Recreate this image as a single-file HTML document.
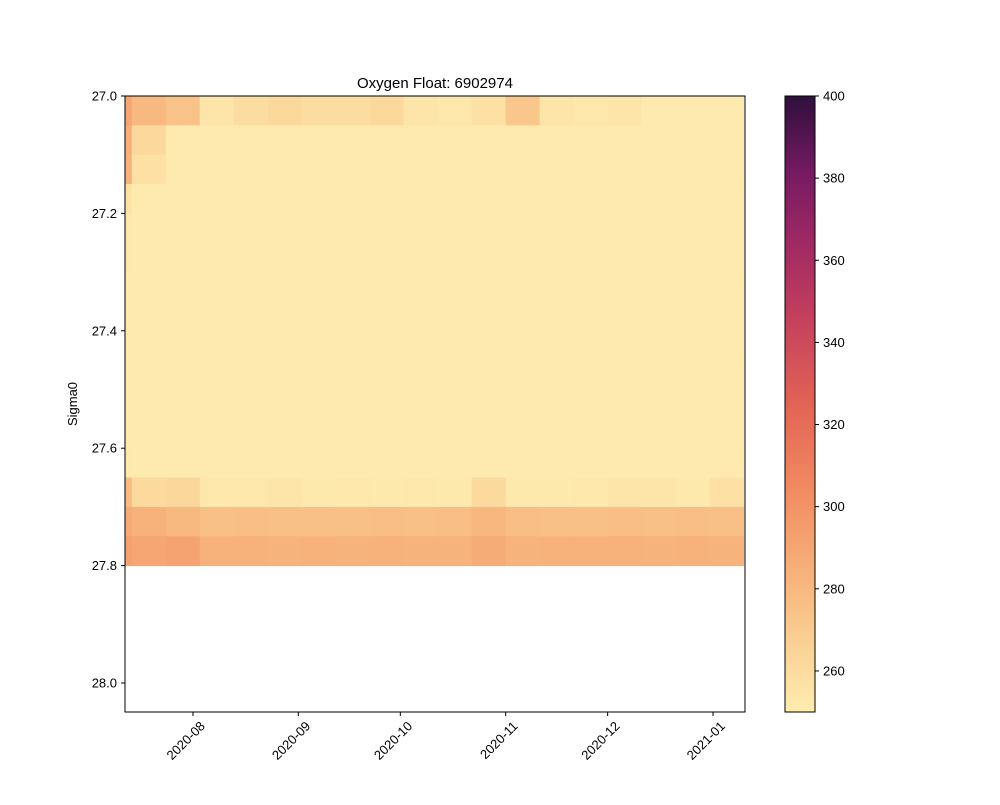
<!DOCTYPE html>
<html><head><meta charset="utf-8"><style>
body{margin:0;background:#fff;font-family:"Liberation Sans",sans-serif;}
</style></head><body>
<svg id="chart" width="1000" height="800" xmlns="http://www.w3.org/2000/svg">
<rect width="1000" height="800" fill="#fff"/>
<g id="cells"></g>
<g id="axes"></g>
</svg>
<script>
const colStartDays = [0,2,12,22,32,42,52,62,72,82,92,102,112,122,132,142,152,162,172]; // days after 2020-07-12
const colEndDay = 182;
const rowSigma = [27.0,27.05,27.1,27.15,27.2,27.25,27.3,27.35,27.4,27.45,27.5,27.55,27.6,27.65,27.7,27.75];
const oxygen = [
[290,280,275,254,259,262,259,259,262,254,253,257,272,255,253,254,251,251,251],
[285,262,251,251,251,251,251,251,251,251,251,251,251,251,251,251,251,251,251],
[283,257,251,251,251,251,251,251,251,251,251,251,251,251,251,251,251,251,251],
[256,251,251,251,251,251,251,251,251,251,251,251,251,251,251,251,251,251,251],
[253,251,251,251,251,251,251,251,251,251,251,251,251,251,251,251,251,251,251],
[253,251,251,251,251,251,251,251,251,251,251,251,251,251,251,251,251,251,251],
[251,251,251,251,251,251,251,251,251,251,251,251,251,251,251,251,251,251,251],
[251,251,251,251,251,251,251,251,251,251,251,251,251,251,251,251,251,251,251],
[251,251,251,251,251,251,251,251,251,251,251,251,251,251,251,251,251,251,251],
[251,251,251,251,251,251,251,251,251,251,251,251,251,251,251,251,251,251,251],
[251,251,251,251,251,251,251,251,251,251,251,251,251,251,251,251,251,251,251],
[251,251,251,251,251,251,251,251,251,251,251,251,251,251,251,251,251,251,251],
[252,251,251,251,251,251,251,251,251,251,251,251,251,251,251,251,251,251,251],
[278,261,263,253,253,254,252,253,252,253,252,261,252,252,253,254,254,252,257],
[287,284,280,276,277,276,276,276,277,276,277,281,277,276,276,277,276,277,276],
[292,290,291,284,284,283,284,283,284,283,283,287,283,284,284,284,283,284,283]
];
const xTickLabels = ["2020-08","2020-09","2020-10","2020-11","2020-12","2021-01"];
const xTickDays = [20,51,81,112,142,173];
const yTicks = [27.0,27.2,27.4,27.6,27.8,28.0];
const cbTicks = [260,280,300,320,340,360,380,400];

const X0=125,X1=745,Y0=96,Y1=712;
const xs = d => X0 + d * 3.399;
const ys = s => Y0 + (s - 27.0) * 587;
const VMIN=250,VMAX=400;
const stops=[[254,236,176],[250,205,145],[246,171,117],[240,135,95],[226,99,86],[200,67,92],[163,43,99],[118,26,98],[47,15,61]];
function cmap(v){let t=Math.max(0,Math.min(1,(v-VMIN)/(VMAX-VMIN)))*(stops.length-1);let i=Math.min(Math.floor(t),stops.length-2),f=t-i;
const c=stops[i].map((a,k)=>Math.round(a+(stops[i+1][k]-a)*f));return `rgb(${c[0]},${c[1]},${c[2]})`;}
const NS="http://www.w3.org/2000/svg";
function el(tag,attrs,parent){const e=document.createElementNS(NS,tag);for(const k in attrs)e.setAttribute(k,attrs[k]);parent.appendChild(e);return e;}
const cells=document.getElementById('cells'),axes=document.getElementById('axes');
for(let r=0;r<rowSigma.length;r++){for(let c=0;c<colStartDays.length;c++){
 const xa=xs(colStartDays[c]),xb=xs(c+1<colStartDays.length?colStartDays[c+1]:colEndDay);
 const ya=ys(rowSigma[r]),yb=ys(rowSigma[r]+0.05);
 const e=el('rect',{x:xa,y:ya,width:Math.min(xb,X1)-xa+0.5,height:yb-ya+0.5,fill:cmap(oxygen[r][c])},cells);
 
 
}}
let fr=el('rect',{x:X0,y:Y0,width:X1-X0,height:Y1-Y0,fill:'none',stroke:'#000','stroke-width':1},axes);

xTickDays.forEach((d,i)=>{const x=xs(d);el('line',{x1:x,x2:x,y1:Y1,y2:Y1+4,stroke:'#000'},axes);
 const t=el('text',{x:x+10,y:Y1+16,'font-size':13,'text-anchor':'end',transform:`rotate(-45 ${x+10} ${Y1+12})`},axes);t.textContent=xTickLabels[i];
 });
yTicks.forEach(s=>{const y=ys(s);el('line',{x1:X0-4,x2:X0,y1:y,y2:y,stroke:'#000'},axes);
 const t=el('text',{x:X0-8,y:y+4.5,'font-size':13,'text-anchor':'end'},axes);t.textContent=s.toFixed(1);
 });
let yl=el('text',{x:77,y:404,'font-size':13,'text-anchor':'middle',transform:'rotate(-90 77 404)'},axes);yl.textContent='Sigma0';

let ti=el('text',{x:435,y:88,'font-size':15,'text-anchor':'middle'},axes);ti.textContent='Oxygen Float: 6902974';

const CX=785,CW=30,cy=v=>Y1-(v-VMIN)/(VMAX-VMIN)*(Y1-Y0);
const defs=el('defs',{},axes);const lg=el('linearGradient',{id:'cb',x1:0,y1:1,x2:0,y2:0},defs);
stops.forEach((s,i)=>el('stop',{offset:i/(stops.length-1),'stop-color':`rgb(${s})`},lg));
let cb=el('rect',{x:CX,y:Y0,width:CW,height:Y1-Y0,fill:'url(#cb)',stroke:'#000','stroke-width':1},axes);

cbTicks.forEach(v=>{const y=cy(v);el('line',{x1:CX+CW,x2:CX+CW+4,y1:y,y2:y,stroke:'#000'},axes);
 const t=el('text',{x:CX+CW+8,y:y+4.5,'font-size':13},axes);t.textContent=v;
 });
</script>
</body></html>
